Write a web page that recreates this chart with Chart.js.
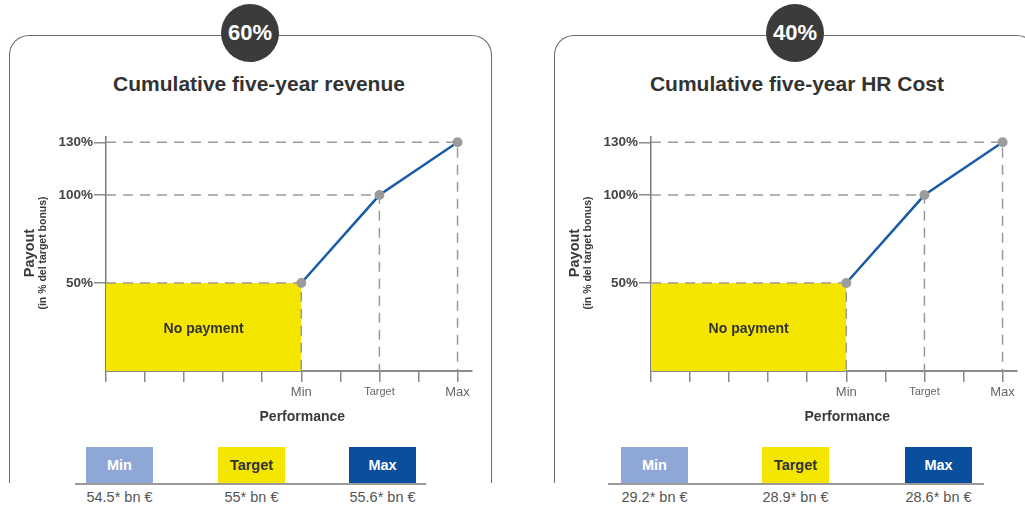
<!DOCTYPE html>
<html>
<head>
<meta charset="utf-8">
<script src="https://cdn.jsdelivr.net/npm/chart.js@4.4.1/dist/chart.umd.min.js"></script>
<style>
  html, body { margin: 0; padding: 0; background: #fff; }
  body { width: 1025px; height: 509px; overflow: hidden; position: relative; font-family: 'Liberation Sans', Arial, sans-serif; }
  .frame { position: absolute; top: 35px; width: 483px; height: 448px; border: 1.5px solid #6a6a6a; border-bottom: none; border-radius: 20px 20px 0 0; box-sizing: border-box; }
  .badge { position: absolute; top: 4px; width: 58px; height: 58px; border-radius: 50%; background: #3b3b3b; color: #fff; font-weight: bold; font-size: 22px; line-height: 58px; text-align: center; }
  .title { position: absolute; top: 72px; width: 440px; text-align: center; font-weight: bold; font-size: 21px; line-height: 24px; color: #333; }
  canvas { position: absolute; top: 120px; }
  .box { position: absolute; top: 447px; width: 67px; height: 36px; line-height: 36px; text-align: center; font-weight: bold; font-size: 14.5px; }
  .base { position: absolute; top: 483px; height: 2px; background: #9a9a9a; }
  .val { position: absolute; top: 489px; width: 120px; text-align: center; font-size: 14.5px; line-height: 17px; color: #555; }
</style>
</head>
<body>

<div class="frame" style="left:9px"></div>
<div class="frame" style="left:554px"></div>

<div class="badge" style="left:221px" id="badge0"></div>
<div class="badge" style="left:766px" id="badge1"></div>

<div class="title" style="left:39px" id="title0"></div>
<div class="title" style="left:577px" id="title1"></div>

<canvas id="chart0" width="500" height="310" style="left:0px"></canvas>
<canvas id="chart1" width="500" height="310" style="left:545px"></canvas>

<div id="legend0"></div>
<div id="legend1"></div>

<script>
// weights and panel titles
const panelWeights = ['60%', '40%'];
const panelTitles = ['Cumulative five-year revenue', 'Cumulative five-year HR Cost'];

// performance axis: one tick per step, labels only at Min / Target / Max
const perfLabels = ['', '', '', '', '', 'Min', '', 'Target', '', 'Max'];
const levelX = [5, 7, 9];

// payout in % of target bonus at Min / Target / Max
const payoutPct = [50, 100, 130];

// KPI thresholds shown under each chart
const levelNames = ['Min', 'Target', 'Max'];
const revenueKpi = ['54.5* bn €', '55* bn €', '55.6* bn €'];
const hrCostKpi = ['29.2* bn €', '28.9* bn €', '28.6* bn €'];

const FONT = "'Liberation Sans', Arial, sans-serif";

// draws the in-chart texts (no payment label, axis titles)
const textPlugin = {
    id: 'panelText',
    afterDatasetsDraw(chart) {
        const c = chart.ctx;
        const xs = chart.scales.x, ys = chart.scales.y;
        c.save();
        c.fillStyle = '#333';
        c.font = 'bold 14px ' + FONT;
        c.textAlign = 'center';
        c.textBaseline = 'middle';
        c.fillText('No payment', xs.getPixelForValue(levelX[0] / 2), ys.getPixelForValue(payoutPct[0] / 2) + 2);
        c.restore();
    },
    afterDraw(chart) {
        const c = chart.ctx;
        const area = chart.chartArea;
        const xs = chart.scales.x;
        const midY = (area.top + area.bottom) / 2 - 1;
        c.save();
        c.fillStyle = '#3a3a3a';
        c.textAlign = 'center';
        c.textBaseline = 'middle';
        c.font = 'bold 14px ' + FONT;
        c.fillText('Performance', xs.getPixelForValue(levelX[0]) + 1, area.bottom + 46);

        c.translate(29.5, midY);
        c.rotate(-Math.PI / 2);
        c.font = 'bold 14.5px ' + FONT;
        c.fillText('Payout', 0, 0);
        c.font = 'bold 10.5px ' + FONT;
        c.fillText('(in % del target bonus)', 0, 14);
        c.restore();
    }
};

function buildChart(id) {
    const guides = levelX.map((x, i) => ({
        data: [{x: 0, y: payoutPct[i]}, {x: x, y: payoutPct[i]}, {x: x, y: 0}],
        borderColor: '#9a9a9a',
        borderWidth: 1.5,
        borderDash: [10, 7],
        pointRadius: 0,
        fill: false,
        order: 1
    }));

    new Chart(document.getElementById(id).getContext('2d'), {
        type: 'line',
        data: {
            datasets: [
                {
                    label: 'Payout',
                    data: levelX.map((x, i) => ({x: x, y: payoutPct[i]})),
                    borderColor: '#1b5ca8',
                    borderWidth: 2.5,
                    pointRadius: 5,
                    pointBackgroundColor: '#9b9b9b',
                    pointBorderWidth: 0,
                    fill: false,
                    order: 0
                },
                ...guides,
                {
                    label: 'No payment',
                    data: [{x: 0, y: payoutPct[0]}, {x: levelX[0], y: payoutPct[0]}],
                    fill: 'origin',
                    backgroundColor: '#f5e600',
                    borderWidth: 0,
                    pointRadius: 0,
                    order: 2
                }
            ]
        },
        options: {
            responsive: false,
            animation: false,
            events: [],
            layout: { padding: { left: 0, top: 17, right: 28, bottom: 0 } },
            plugins: { legend: { display: false }, tooltip: { enabled: false } },
            scales: {
                x: {
                    type: 'linear',
                    min: 0,
                    max: 9.37,
                    afterBuildTicks: s => { s.ticks = perfLabels.map((_, i) => ({ value: i })); },
                    afterFit: s => { s.height = 59; },
                    grid: { drawOnChartArea: false, drawTicks: true, tickLength: 11, color: '#8a8a8a', lineWidth: 1.5 },
                    border: { color: '#8a8a8a', width: 2 },
                    ticks: {
                        autoSkip: false,
                        maxRotation: 0,
                        padding: 3,
                        color: '#666',
                        font: c => ({ family: FONT, size: c.index === 7 ? 11 : 13 }),
                        callback: (v, i) => perfLabels[i]
                    }
                },
                y: {
                    min: 0,
                    max: 133,
                    afterBuildTicks: s => { s.ticks = payoutPct.map(v => ({ value: v })); },
                    afterFit: s => { s.width = 106; },
                    grid: { drawOnChartArea: false, drawTicks: true, tickLength: 12, color: '#8a8a8a', lineWidth: 1.5 },
                    border: { color: '#7a7a7a', width: 1.5 },
                    ticks: {
                        padding: 1,
                        color: '#444',
                        font: { family: FONT, size: 13.5, weight: 'bold' },
                        callback: v => v + '%'
                    }
                }
            }
        },
        plugins: [textPlugin]
    });
}

// legend strip under each chart
function buildLegend(id, boxLefts, baseLeft, baseRight, values) {
    const wrap = document.getElementById(id);
    const styles = [
        { bg: '#8fa7d6', fg: '#fff' },
        { bg: '#f5e600', fg: '#333' },
        { bg: '#0a4f9e', fg: '#fff' }
    ];
    let html = '<div class="base" style="left:' + baseLeft + 'px;width:' + (baseRight - baseLeft) + 'px"></div>';
    levelNames.forEach((name, i) => {
        html += '<div class="box" style="left:' + boxLefts[i] + 'px;background:' + styles[i].bg + ';color:' + styles[i].fg + '">' + name + '</div>';
        html += '<div class="val" style="left:' + (boxLefts[i] + 33.5 - 60) + 'px">' + values[i] + '</div>';
    });
    wrap.innerHTML = html;
}

document.getElementById('badge0').textContent = panelWeights[0];
document.getElementById('badge1').textContent = panelWeights[1];
document.getElementById('title0').textContent = panelTitles[0];
document.getElementById('title1').textContent = panelTitles[1];

buildChart('chart0');
buildChart('chart1');
buildLegend('legend0', [86, 218, 349], 75, 426, revenueKpi);
buildLegend('legend1', [621, 762, 905], 608, 984, hrCostKpi);
</script>
</body>
</html>
